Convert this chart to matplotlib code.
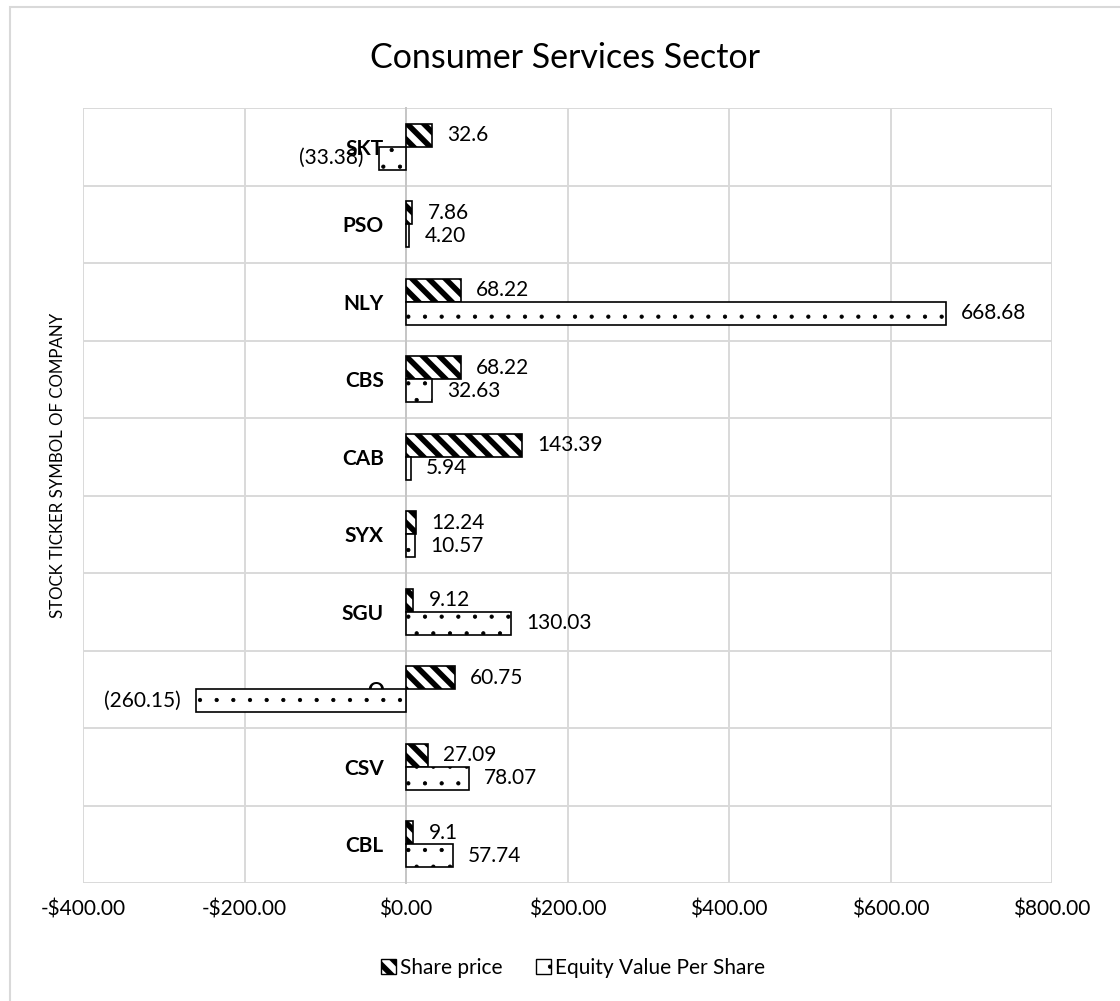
import matplotlib
matplotlib.use("Agg")
import matplotlib.pyplot as plt
from matplotlib.patches import Rectangle, Patch
from matplotlib.ticker import FuncFormatter, FixedLocator
import numpy as np

# ---- data (bottom to top) ----
tickers = ["CBL", "CSV", "O", "SGU", "SYX", "CAB", "CBS", "NLY", "PSO", "SKT"]
share_price = [9.1, 27.09, 60.75, 9.12, 12.24, 143.39, 68.22, 68.22, 7.86, 32.6]
equity_value = [57.74, 78.07, -260.15, 130.03, 10.57, 5.94, 32.63, 668.68, 4.20, -33.38]
x_ticks = [-400, -200, 0, 200, 400, 600, 800]
title = "Consumer Services Sector"
ylabel = "STOCK TICKER SYMBOL OF COMPANY"
series_names = ["Share price", "Equity Value Per Share"]

FONT = "Lato"
plt.rcParams["font.family"] = [FONT, "DejaVu Sans"]
GRID = "#d9d9d9"
STRIPE = "\\\\"
STRIPE_LW = 4.0
DOTS = "."
DOT_LW = 0.6

fig = plt.figure(figsize=(11.2, 10.01), dpi=100)
ax = fig.add_axes([83 / 1120, 1 - 883 / 1001, (1052 - 83) / 1120, (883 - 108) / 1001])

# axis line at zero (set before tick labels: set_position resets ticks)
for s in ["top", "right", "bottom"]:
    ax.spines[s].set_visible(False)
ax.spines["left"].set_position(("data", 0))
ax.spines["left"].set_color("#c6c6c6")
ax.spines["left"].set_linewidth(1.4)
ax.spines["left"].set_zorder(2)

y = np.arange(len(tickers))
h = 0.296

with plt.rc_context({"hatch.linewidth": STRIPE_LW}):
    b1 = ax.barh(y + h / 2, share_price, height=h, color="white",
                 edgecolor="black", linewidth=1.2, hatch=STRIPE, zorder=3)
with plt.rc_context({"hatch.linewidth": DOT_LW}):
    b2 = ax.barh(y - h / 2, equity_value, height=h, color="white",
                 edgecolor="black", linewidth=1.2, hatch=DOTS, zorder=3)
for p in b1:
    if hasattr(p, "set_hatch_linewidth"):
        p.set_hatch_linewidth(STRIPE_LW)
for p in b2:
    if hasattr(p, "set_hatch_linewidth"):
        p.set_hatch_linewidth(DOT_LW)


def fmt_share(v):
    return "{:g}".format(v)


def fmt_eq(v):
    return "({:,.2f})".format(-v) if v < 0 else "{:,.2f}".format(v)


for rect, v in zip(b1, share_price):
    yc = rect.get_y() + rect.get_height() / 2
    ax.annotate(fmt_share(v), xy=(v, yc), xytext=(11 if v >= 0 else -11, 0),
                textcoords="offset points", ha="left" if v >= 0 else "right",
                va="center", fontsize=15, color="black", zorder=5)
for rect, v in zip(b2, equity_value):
    yc = rect.get_y() + rect.get_height() / 2
    ax.annotate(fmt_eq(v), xy=(v, yc), xytext=(11 if v >= 0 else -11, 0),
                textcoords="offset points", ha="left" if v >= 0 else "right",
                va="center", fontsize=15, color="black", zorder=5)

ax.set_xlim(x_ticks[0], x_ticks[-1])
ax.set_ylim(-0.5, len(tickers) - 0.5)
ax.set_xticks(x_ticks)
ax.xaxis.set_major_formatter(FuncFormatter(
    lambda v, p: "-${:,.2f}".format(-v) if v < 0 else "${:,.2f}".format(v)))
ax.set_yticks(y)
ax.set_yticklabels(tickers)
ax.yaxis.set_minor_locator(FixedLocator(np.arange(-0.5, len(tickers), 1.0)))
ax.tick_params(axis="x", length=0, pad=12, labelsize=15)
ax.tick_params(axis="y", which="both", length=0, pad=16, labelsize=15)
for lab in ax.get_yticklabels():
    lab.set_fontweight("bold")
ax.grid(True, axis="x", which="major", color=GRID, linewidth=1.4, zorder=0)
ax.grid(True, axis="y", which="minor", color=GRID, linewidth=1.4, zorder=0)
ax.grid(False, axis="y", which="major")
ax.set_axisbelow(True)

fig.text(565 / 1120, 1 - 58 / 1001, title, ha="center", va="center", fontsize=24.5)
fig.text(58 / 1120, 1 - 465 / 1001, ylabel, rotation=90, ha="center", va="center", fontsize=12.2)

with plt.rc_context({"hatch.linewidth": STRIPE_LW}):
    hp1 = Patch(facecolor="white", edgecolor="black", hatch=STRIPE, linewidth=1.0)
with plt.rc_context({"hatch.linewidth": DOT_LW}):
    hp2 = Patch(facecolor="white", edgecolor="black", hatch=DOTS, linewidth=1.0)
leg = fig.legend([hp1, hp2], series_names, loc="center",
                 bbox_to_anchor=(573 / 1120, 1 - 968 / 1001),
                 ncol=2, frameon=False, fontsize=15, handlelength=0.7, handleheight=0.7,
                 handletextpad=0.2, columnspacing=1.6)
lh = leg.legend_handles if hasattr(leg, "legend_handles") else leg.legendHandles
for hnd, lw in zip(lh, [STRIPE_LW, DOT_LW]):
    if hasattr(hnd, "set_hatch_linewidth"):
        hnd.set_hatch_linewidth(lw)

fig.add_artist(Rectangle((10 / 1120, -0.02), 1.0, 1 - 7 / 1001 + 0.02, transform=fig.transFigure,
                         fill=False, edgecolor=GRID, linewidth=1.5))

fig.savefig("out.png", dpi=100)
